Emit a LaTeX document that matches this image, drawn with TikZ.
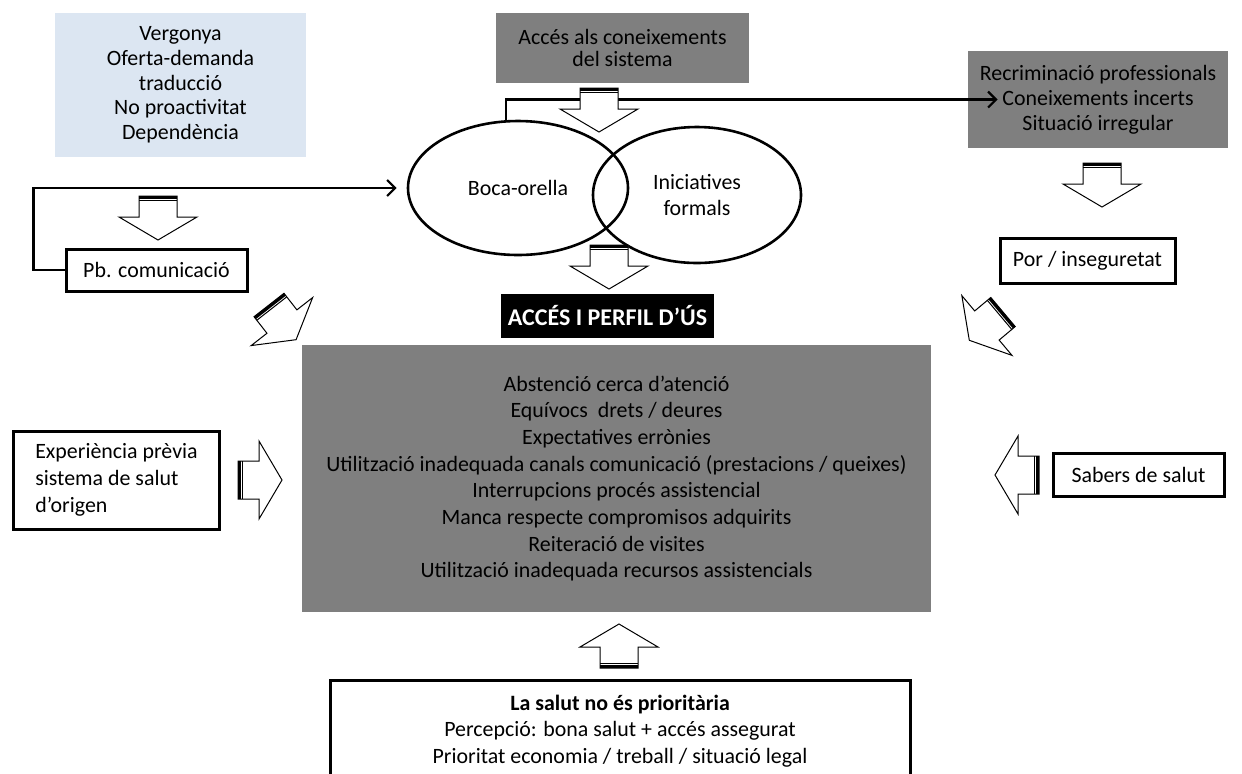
\documentclass[tikz,border=0pt]{standalone}
\usepackage{fontspec}
\setmainfont{Carlito}
\usepackage{tikz}
\usetikzlibrary{shapes}
\usetikzlibrary{arrows.meta}
\usetikzlibrary{calc}
\usetikzlibrary{positioning}
\usepackage{xcolor}
\definecolor{mygrey}{HTML}{7F7F7F}
\definecolor{mypale}{HTML}{DCE6F2}
\tikzset{every node/.style={font={\fontsize{10.95}{13.35}\selectfont}}}
\tikzstyle{greybox} = [fill=mygrey, inner sep=0pt, align=center]
\tikzstyle{palebox} = [fill=mypale, inner sep=0pt, align=center]
\tikzstyle{frame} = [draw=black, fill=white, line width=1.5pt, inner sep=0pt, align=center]
\tikzstyle{blob} = [ellipse, draw=black, line width=1.3pt, inner sep=0pt, align=center]
\tikzstyle{ln} = [draw, line width=1.1pt, -{Straight Barb[length=4pt, width=8pt, line width=1.1pt]}]
% white block arrow with a striped tail: tail centre x, y, angle
\newcommand{\stripedarrow}[3]{
  \begin{scope}[shift={(#1,#2)}, rotate=#3]
    \draw[fill=white, line width=0.5pt] (0,-19) -- (21,-19) -- (21,-39) -- (44,0) -- (21,39) -- (21,19) -- (0,19) -- cycle;
    \fill (0,-19) rectangle (3,19);
    \draw[line width=0.5pt] (4.5,-19) -- (4.5,19);
  \end{scope}
}

\begin{document}
\begin{tikzpicture}[x=0.5pt, y=-0.5pt]
  \useasboundingbox (0,0) rectangle (1242,773);
  \clip (0,0) rectangle (1242,773);
  \node[palebox, minimum width=125.5pt, minimum height=72pt, font={\fontsize{10.95}{12.35}\selectfont}] (barriers) at (180.5,85) {Vergonya\\Oferta-demanda\\traducció\\No proactivitat\\Dependència};
  \node[greybox, minimum width=126.5pt, minimum height=35pt, font={\fontsize{10.95}{11}\selectfont}] (know) at (622.5,48) {Accés als coneixements\\del sistema};
  \node[greybox, minimum width=130pt, minimum height=48.5pt, font={\fontsize{10.95}{12.5}\selectfont}] (risk) at (1098,99.5) {Recriminació professionals\\Coneixements incerts\\Situació irregular};
  \node[blob, minimum width=110pt, minimum height=67pt] (boca) at (518,188) {Boca-orella};
  \node[blob, minimum width=104pt, minimum height=68pt] (formal) at (697,195) {Iniciatives\\formals};
  \node[frame, minimum width=90.5pt, minimum height=21pt] (pb) at (156.5,270) {Pb. comunicació};
  \node[frame, minimum width=87.5pt, minimum height=22.5pt] (por) at (1087.5,260.5) {Por / inseguretat};
  \node[fill=black, text=white, minimum width=105.5pt, minimum height=22pt, font={\fontsize{12}{14}\selectfont\bfseries}] (title) at (607.5,315.5) {ACCÉS I PERFIL D’ÚS};
  \node[greybox, minimum width=314.5pt, minimum height=133.5pt] (main) at (616.5,478.5) {Abstenció cerca d’atenció\\Equívocs~ drets / deures\\Expectatives errònies\\Utilització inadequada canals comunicació (prestacions / queixes)\\Interrupcions procés assistencial\\Manca respecte compromisos adquirits\\Reiteració de visites\\Utilització inadequada recursos assistencials};
  \node[frame, minimum width=103pt, minimum height=49pt, align=left, inner xsep=8pt, anchor=west] (exp) at (12,480) {Experiència prèvia\\sistema de salut\\d’origen\hspace*{40pt}};
  \node[frame, minimum width=85.5pt, minimum height=21.5pt] (sabers) at (1138.5,474.5) {Sabers de salut};
  \node[frame, minimum width=290pt, minimum height=51pt] (prio) at (620,731) {\textbf{La salut no és prioritària}\\Percepció: bona salut + accés assegurat\\Prioritat economia / treball / situació legal};
  \draw[ln, shorten >=5pt] (pb.west) -- ++(-31,0) |- (boca.west);
  \draw[ln] (boca.100) |- ([xshift=15pt]risk.west);
  \stripedarrow{599}{88}{-90}
  \stripedarrow{609}{245}{-90}
  \stripedarrow{158}{196}{-90}
  \stripedarrow{1102}{163}{-90}
  \stripedarrow{269}{305}{-52}
  \stripedarrow{1003}{312}{-140}
  \stripedarrow{238}{480}{0}
  \stripedarrow{1039}{475}{180}
  \stripedarrow{619}{668}{90}
\end{tikzpicture}
\end{document}
